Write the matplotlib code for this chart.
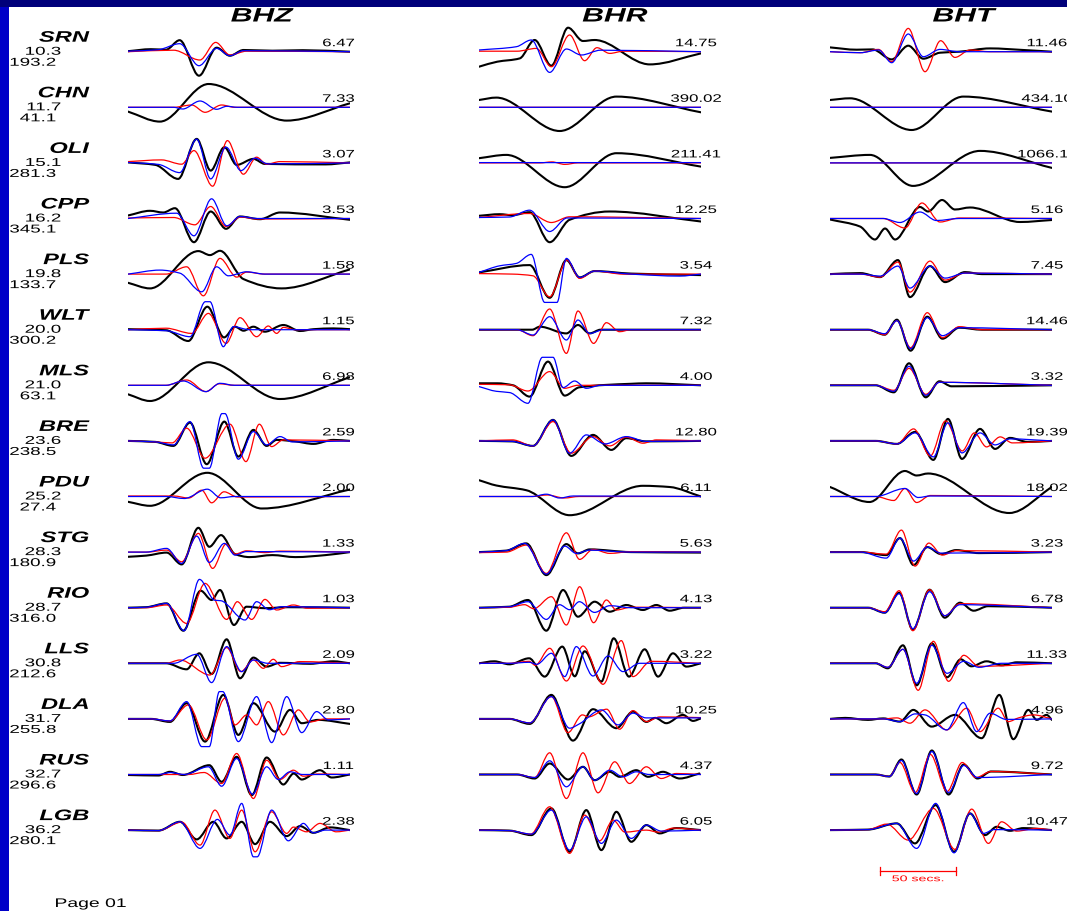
import matplotlib
matplotlib.use("Agg")
import matplotlib.pyplot as plt
from matplotlib.path import Path
from matplotlib.patches import PathPatch, Rectangle
from matplotlib.patheffects import AbstractPathEffect
from matplotlib.transforms import Affine2D

W, H = 1067, 911

stations = ['SRN', 'CHN', 'OLI', 'CPP', 'PLS', 'WLT', 'MLS', 'BRE',
            'PDU', 'STG', 'RIO', 'LLS', 'DLA', 'RUS', 'LGB']
distances = ['10.3', '11.7', '15.1', '16.2', '19.8', '20.0', '21.0', '23.6',
             '25.2', '28.3', '28.7', '30.8', '31.7', '32.7', '36.2']
azimuths = ['193.2', '41.1', '281.3', '345.1', '133.7', '300.2', '63.1', '238.5',
            '27.4', '180.9', '316.0', '212.6', '255.8', '296.6', '280.1']
components = ['BHZ', 'BHR', 'BHT']
amp_bhz = ['6.47', '7.33', '3.07', '3.53', '1.58', '1.15', '6.98', '2.59',
           '2.00', '1.33', '1.03', '2.09', '2.80', '1.11', '2.38']
amp_bhr = ['14.75', '390.02', '211.41', '12.25', '3.54', '7.32', '4.00', '12.80',
           '6.11', '5.63', '4.13', '3.22', '10.25', '4.37', '6.05']
amp_bht = ['11.46', '434.10', '1066.11', '5.16', '7.45', '14.46', '3.32', '19.39',
           '18.02', '3.23', '6.78', '11.33', '4.96', '9.72', '10.47']

# waveform extrema: (time in s, amplitude) ; black = data, red / blue = synthetics
bhz_black = [
    [(0, 0.5), (15, 2.5), (25, 2), (34, 11.5), (46.7, -24), (58.3, 4), (67, -4), (76, 1.7), (95, 1), (115, 1.5), (146, 0)],
    [(0, -4.3), (21, -14.3), (53, 23.3), (104.4, -13.3), (146, 4)],
    [(0, 0.5), (18, -2), (33, -16), (45.2, 24), (54.4, -7.7), (63.4, 15.7), (71.5, -2), (82.5, 4), (90, -1), (130, -1.5), (146, 0.5)],
    [(0, 3), (14.5, 7.7), (23.2, 6), (30.9, 10.3), (43.4, -23.7), (54.4, 7), (64.5, -10.3), (73.7, 2), (86.8, -0.7), (100, 6), (146, -1.3)],
    [(0, -8.7), (14.5, -14.3), (46.3, 23), (53.9, 19), (60.5, 23.3), (76, -5), (101, -14.3), (146, 4.7)],
    [(0, 0.5), (25, -0.5), (39.7, -11.3), (52.2, 23), (63.2, -7.7), (70.4, 3), (76, -1), (82.5, 3), (90, -2), (102.2, 4.7), (113.2, -1.3), (122, 0.5), (135, 1.3), (146, 0.5)],
    [(0, -9), (14.5, -15.7), (52.9, 23), (100, -13.7), (146, 8)],
    [(0, 0), (18, -1), (29.8, -5), (40.8, 18.3), (51.8, -23.3), (63.4, 19.3), (72.6, -15.7), (82.5, 11), (91.2, -5), (97.8, 1), (110, -0.5), (122, -3), (135, 1), (146, 0)],
    [(0, -5.3), (14.5, -9.3), (52.2, 23.7), (88, -12), (146, 7)],
    [(0, -4.7), (12, -3.5), (25.4, -0.5), (35.3, -12.3), (46.3, 24.3), (53.5, 5.3), (61.2, 17), (70.4, -2), (80, -5), (95, -3), (110, -5), (130, -3), (146, 0)],
    [(0, 0), (12, 0.5), (25.4, 4.3), (36.4, -23), (47.8, 17), (55, 7.7), (60.5, 17.7), (69.7, -17.3), (78, 1), (90, -0.5), (105, 0.5), (146, 0)],
    [(0, 0), (25, 0), (38.6, -6), (46.9, 10), (55, -10.7), (64.9, 24), (73.7, -15), (82.5, 5.7), (91.2, -3.3), (100, 0.5), (120, -0.5), (135, 2), (146, 0)],
    [(0, 0), (15, 0), (27.6, -3), (38.6, 15.7), (50.7, -22.7), (62.7, 24), (72.6, -16), (82.5, 15.7), (96.7, -12.7), (106.6, 9), (114.3, -4.3), (125, -1), (146, -5)],
    [(0, -0.5), (20, -1), (27.6, 2.7), (36, -0.5), (53.5, 9.3), (61.6, -7.3), (71.5, 17.7), (81.4, -20.7), (91.2, 17), (102.2, -10), (109, 1), (114.3, -5), (126.3, 4.3), (134, -3), (146, 0)],
    [(0, 0), (20, -0.5), (34.2, 8.3), (45.2, -9.3), (56.1, 8.3), (64.9, -8.3), (74.8, 8.3), (83.6, -14), (93.4, 8.3), (104.4, -6), (113.2, 4), (121.9, -2.7), (132.9, 2.7), (146, 0)],
]
bhz_red = [
    [(0, 0), (30, 1.5), (47.3, -8.3), (57.7, 9.3), (67, -3.3), (78, 0.5), (146, 0)],
    [(0, 0), (30, 0), (41.9, 2.3), (50.7, -5), (61.6, 2.3), (70, 0), (146, 0)],
    [(0, 1.3), (22, 3), (35.3, -1.3), (43.4, 12.3), (55.7, -23.3), (65.4, 22.3), (75.9, -11.3), (84.6, 5.7), (91.2, -1.3), (100, 1.3), (146, 0)],
    [(0, 0.5), (30, 1), (44, -6.3), (54.4, 12), (64.5, -8), (74, 1.5), (85, -0.5), (146, 0)],
    [(0, 0), (25, 0), (38.6, 7.3), (49.6, -21.7), (60.5, 15.7), (71.5, -3), (78, 2), (90, 0), (146, 0)],
    [(0, 0), (25, 1.5), (41.9, -3.7), (52.9, 16.3), (64.5, -13.7), (73.7, 12), (84.6, -7), (92.3, 3.7), (97.8, -3.7), (102.2, 2.3), (110, 0), (146, 0)],
    [(0, 0), (25, 0), (38.6, 5.3), (51.3, -6.3), (60, 1.5), (70, 0), (146, 0)],
    [(0, 0), (18, -1), (29, -2), (38.6, 12.7), (50.7, -17.3), (67.1, 16.7), (77.6, -20.7), (86.4, 16.7), (94.5, -5.7), (102.2, 1), (146, 0)],
    [(0, 0.5), (30, 0.5), (40, -1.5), (48.5, 6.3), (55, -6.3), (63.2, 4.7), (72, -0.5), (146, 0)],
    [(0, 0), (12, 0), (25.4, 2), (35.3, -9.7), (46.3, 18.7), (55.7, -16.3), (64.5, 8), (70.4, -2), (78, 1.3), (90, -0.5), (100, 1), (146, 0)],
    [(0, 0), (12, 0), (25.4, 2.7), (38.6, -15.7), (50.7, 24.3), (64.9, -11.7), (71.9, 6), (81.4, -11.7), (90.1, 8.3), (97.8, -2.3), (108.8, 2.7), (118, -0.5), (146, 0)],
    [(0, 0), (25, 0), (34.2, 3.3), (53.9, -11.7), (64.9, 15.7), (74.2, -8.3), (82.5, 3.3), (89, -5), (95.6, 4), (101, -3.3), (113, 1.7), (146, 0)],
    [(0, 0), (15, 0), (27.6, -2), (39.7, 14), (51.8, -21), (63.8, 20.7), (70.4, -6), (78.1, 4), (84.6, -6), (92.3, 17.3), (102.2, -16), (112.1, 9), (119.7, -3), (130, 0), (146, 0)],
    [(0, 0), (40, 0), (50, 2), (61.6, -9), (71.5, 21), (82.5, -24), (91.2, 14.3), (100, -5), (108.8, 4.3), (115.4, -1.7), (125, 0.5), (146, 0)],
    [(0, 0), (20, -0.5), (35.3, 8), (47.4, -15), (57.2, 20), (67, -8.3), (74.8, 20), (83.6, -21.7), (94.5, 18.3), (104.4, -3.3), (108.8, 3), (117.5, -1.7), (126.3, 6.7), (137, -1.7), (146, 0)],
]
bhz_blue = [
    [(0, 0.5), (20, 2), (34, 8), (46.7, -14), (58.3, 3.3), (67, -4), (76, 1), (146, 0)],
    [(0, 0), (30, 0), (36, -1.7), (47.4, 6.3), (58.3, -2), (65, 1), (72, 0), (146, 0)],
    [(0, 0.5), (20, -1.5), (34, -9.7), (45.2, 23.7), (54.4, -16), (64.5, 15.7), (74.3, -7.7), (83.5, 4.7), (92, -1), (146, 0)],
    [(0, 0), (32, 5.3), (43.4, -17.3), (55, 19.7), (65, -7.3), (73.7, 2), (85, 0), (146, 0)],
    [(0, 0), (21, 4), (34, 1), (48.5, -17.7), (58.3, 7.3), (66, -1.7), (78, 2.3), (90, 0), (146, 0)],
    [(0, 0), (25, -1), (40.8, -7), (50.9, 28), (53.9, 28), (62.7, -17), (69.3, 3), (80, 0), (146, 0)],
    [(0, 0), (25, 0), (36.4, 4.3), (51.3, -6.3), (60.5, 2), (70, 0), (146, 0)],
    [(0, 0), (18, -1), (30, -4), (40.8, 19.3), (49.8, -27.3), (53.5, -27.3), (61.8, 27.3), (63.8, 27.3), (72.6, -18.3), (82.5, 9.3), (91.2, -4), (100, 4.3), (108, -1), (146, 0)],
    [(0, 0), (25, 0), (37, -2), (52.2, 7.3), (61, -1.3), (70, 0), (146, 0)],
    [(0, 0), (12, 0), (25.4, 3.7), (35.3, -11.3), (45.2, 16), (53.5, -10.3), (63.4, 8.7), (70.4, -3), (78, 0.5), (146, 0)],
    [(0, 0), (12, 0.5), (25.4, 4.3), (36.9, -23), (47, 28.3), (57, 7.5), (61, 7), (77, -12.3), (84.6, 6), (93, -2), (101, 1), (146, 0)],
    [(0, 0), (30, 0), (45.2, 9), (55, -19.3), (64.9, 16.7), (74.8, -8.3), (82.5, 3.3), (92, 0), (146, 0)],
    [(0, 0), (15, 0), (27.6, -2), (38.6, 17.3), (48.5, -27.7), (53.5, -27.7), (60.1, 27.3), (62.3, 27.3), (72.6, -22.7), (84.6, 22.3), (94.5, -23.7), (104.4, 22.3), (114.3, -13.7), (124.1, 7.3), (131.8, -1), (146, 0)],
    [(0, 0), (20, 0), (28, 2), (37, 0), (52.9, 7.7), (61.6, -11.7), (71.5, 16), (82, -19.7), (91.2, 7.7), (98.9, -5), (106.6, 2.7), (115, 0), (146, 0)],
    [(0, 0), (20, -0.5), (34.2, 8.3), (47.4, -18.3), (58.8, 10.7), (67.1, -5), (74.8, 26.7), (82.5, -26.7), (85, -26.7), (94.5, 20), (105.5, -10.7), (115.4, 6.7), (121.9, -2.7), (130, 0), (146, 0)],
]

bhr_black = [
    [(0, -15), (12, -10), (26.8, -6.7), (36.6, 11.7), (47.6, -14), (58.6, 24), (68.4, 10.7), (76.1, 11.7), (112.3, -12.7), (146, -1.7)],
    [(0, 7.3), (11.4, 9.7), (53.1, -23.7), (90.4, 10.7), (146, -5)],
    [(0, 4.7), (18, 8), (56.4, -24.3), (90.4, 9.7), (146, -3.7)],
    [(0, 2.7), (13.6, 4.3), (22, 3.3), (33.3, 6.3), (46.5, -23.7), (59.6, -1.3), (86, 7), (146, -3)],
    [(0, 1.7), (33.3, 9), (46.5, -23.7), (57.5, 14), (66.2, -3.3), (76.1, 3), (100, 0.5), (146, -1)],
    [(0, 0), (35, 0), (40, 3), (57.5, -3.7), (65.1, 4.7), (72.8, -3.7), (80, 0), (146, 0)],
    [(0, 2), (12, 2), (22.4, 0), (33.3, -11.3), (45.4, 23.7), (56.4, -10.3), (66, -2), (100, 1.5), (110, 2), (146, 0)],
    [(0, 0), (22, -0.5), (35.5, -5), (48.7, 21), (60.7, -15), (75, 6), (87.1, -9), (96.9, 2.7), (110, -0.5), (146, 0)],
    [(0, 16.3), (11.4, 11), (31.1, 6.3), (59.6, -18.7), (107.9, 10.7), (125.4, 9.5), (146, 0)],
    [(0, 0), (18, 1.5), (31.1, 8.7), (44.3, -23), (57.5, 8), (65.1, -1.3), (72.8, 2.7), (100, 0), (146, -0.5)],
    [(0, 0), (20, 1), (32.2, 7.7), (44.3, -23), (55.3, 17.7), (65.1, -9), (76.1, 6), (86, -4), (96.9, 2.7), (107.9, -2.3), (116.7, 2.7), (125.4, -3), (135, 0), (146, 0)],
    [(0, 0), (10, 2), (20, -1), (33, 5), (43.2, -13.3), (54.8, 16.7), (63, -13), (69.5, 12), (80.5, -18.3), (88.6, 25), (98.7, -13.3), (109, 14), (117.8, -13.3), (127.6, 10), (136.4, -3.3), (146, 0)],
    [(0, 0), (20, 0), (33.3, -5), (47.6, 24), (61.8, -21.7), (75, 9.7), (90.4, -9.3), (101.3, 7.3), (110.1, -3), (116, 1), (123.2, -4.3), (134.2, 4), (140.8, -2), (146, 0.5)],
    [(0, 0), (25, 0), (36.6, -4), (46.5, 11), (58.6, -5), (68.4, 7.7), (76.1, -5.7), (86, 2.7), (92.5, -2.3), (103.5, 4.3), (111.2, -2.3), (121, 2.7), (132, -4), (145, 1)],
    [(0, 0), (20, -0.5), (34.4, -5), (47.6, 21.7), (59.6, -21.7), (70.6, 20), (80.5, -20), (90.4, 18.3), (100.2, -11.7), (110.1, 5), (118.9, -3.3), (129.8, 2), (146, 0)],
]
bhr_red = [
    [(0, 0.5), (25, 0.5), (37.7, 3.3), (47.6, -15), (59.6, 16.7), (69.5, -9), (77.6, 4), (86, -1.7), (95, 0.5), (146, 0)],
    [(0, 0), (146, 0)],
    [(0, 0), (40, 0), (48, 1), (56.4, -1.5), (65, 0), (146, 0)],
    [(0, 1), (33.3, 5), (47.6, -4), (59.6, 1.7), (146, 0)],
    [(0, 0.5), (22, 0), (35.5, -1.7), (46.5, -22.7), (57.9, 14), (66.2, -4.3), (76.1, 3), (95, 0), (146, 0)],
    [(0, 0), (25, 0), (35.5, -6), (46.5, 20.7), (57.5, -23.7), (65.1, 18.7), (75.4, -13.7), (83.8, 7), (92.5, -2), (100, 0), (146, 0)],
    [(0, 1), (20, 0.5), (32.2, -5.7), (46.5, 13.7), (56.4, -3), (65, 0), (146, 0)],
    [(0, 0), (22, 1), (35.5, -5), (48.7, 19.3), (60.7, -12.3), (75, 4.3), (86, -5), (96.9, 3.7), (107.9, -2.3), (116.7, 1), (146, 0)],
    [(0, 0), (35, 0), (45, 1.5), (56, -1.5), (66, 0), (146, 0)],
    [(0, -0.5), (18, 0), (31.1, 7), (44.3, -21.3), (57.5, 19.3), (66.2, -7.3), (75, 2.7), (86, -1.3), (100, 0.5), (146, 0)],
    [(0, 0), (20, 0.5), (30, 3), (36, -1), (47.6, 11), (57.5, -17.3), (66.2, 21), (75.4, -15), (83.8, 7.7), (90.4, -2.3), (100, 0.5), (146, 0)],
    [(0, 0), (20, 0), (33, 2), (37, -2), (46.5, 15), (57.5, -17.7), (68.4, 17.3), (81.6, -21), (93.6, 22.7), (101.3, -13.3), (113, 2), (146, 0)],
    [(0, 0), (20, 0), (33.3, -4), (47.6, 22.3), (58.5, -13.7), (68, 4), (72, 2), (84, 9.7), (92.5, -10.3), (101.3, 8.3), (110.1, -2.7), (119, 2), (146, 1.3)],
    [(0, 0), (25, 0), (36.6, -3), (46.5, 21.7), (57.5, -24), (68.4, 21.7), (78.3, -18.3), (89.3, 12.7), (99, -9), (110.1, 7.7), (119.9, -4), (129.8, 1), (146, 0)],
    [(0, 0), (20, -0.5), (34, -4), (46.5, 23.3), (59.6, -23.3), (69.5, 15), (79.4, -10.7), (88.2, 10), (96, -2), (110, 0), (118, -2), (128, 2), (146, 0)],
]
bhr_blue = [
    [(0, 1.7), (24.6, 5), (34.4, 11.7), (46.5, -20.7), (57.5, 2.7), (67.3, -3.3), (80, 1.5), (146, 0)],
    [(0, 0), (146, 0)],
    [(0, 0.3), (146, 0.3)],
    [(0, 1), (20, 1.5), (33.3, 8.3), (46.5, -13), (58, 0.5), (146, 0)],
    [(0, 1.7), (13.6, 8.3), (24.6, 10.7), (34.4, 19.7), (43.2, -28.3), (51.3, -28.3), (57.5, 15.7), (66.2, -3.3), (76.1, 3), (100, 0), (132, -2), (146, 0)],
    [(0, 0), (25, 0), (35.5, -5.3), (46.5, 13), (57.5, -10.3), (65.1, 9.7), (72.8, -3.7), (82, 0), (146, 0)],
    [(0, -1.3), (11.4, -6), (20.2, -7.3), (32.2, -18), (41.7, 28), (48.7, 28), (55.3, -2.3), (62.9, 4.3), (70.6, -3), (80, 0), (146, 0)],
    [(0, 0), (22, -0.5), (35.5, -5), (48.7, 21), (59.6, -12.3), (70.6, 6), (83, -3), (96.9, 4.3), (110, -0.5), (146, 0)],
    [(0, 0), (35, 0), (44.3, 2.3), (53, -1.5), (62, 0.5), (146, 0)],
    [(0, 0), (18, 1.5), (30, 8.7), (44.3, -22), (56.4, 6), (64, -1.3), (72.8, 2), (100, 0), (146, 0)],
    [(0, 0), (20, 1), (32.2, 6), (44.3, -11.7), (53, 3), (59.6, -2), (66, 6), (76, -4.7), (86, 2), (100, 0), (146, 0)],
    [(0, 0), (20, 0), (33, 1), (38, -1), (47.6, 10), (56.4, -13.3), (64, 16.7), (75, -12.7), (84.9, 7.3), (94.7, -8.3), (105.7, 0), (146, 0)],
    [(0, 0), (20, 0), (33.3, -4), (47.6, 22.3), (59.6, -9.3), (66, -5), (80.5, 9), (91.5, -6), (101.3, 5.7), (110, 1), (146, 1)],
    [(0, 0), (25, 0), (36.6, -3), (46.5, 13.7), (57.5, -12.3), (68.4, 7.7), (76.1, -5.7), (86, 4.3), (94.7, -2.3), (103.5, 2.7), (112, 0), (146, 0)],
    [(0, 0), (20, -0.5), (34.4, -4), (47.6, 20), (59.6, -20), (70.6, 13.3), (80.5, -13.3), (90.4, 10), (100.2, -8.3), (110.1, 5), (120, -1), (146, 0)],
]

bht_black = [
    [(0, 4.3), (17.5, 2), (28, 2.3), (40.6, -7.7), (51.5, 6), (61.4, -7), (72.4, -1), (85, 0), (105.3, 3.3), (127.2, 1.7), (146, 0)],
    [(0, 7.3), (13.2, 9), (53.7, -22.7), (87.7, 10.7), (146, -4.3)],
    [(0, 5), (26.3, 8), (54.6, -23), (98.7, 12), (146, -5)],
    [(0, -1), (19.7, -8), (29.6, -21), (36.2, -10), (42.8, -21), (59.2, 11.5), (64.5, 7), (73.7, 18.5), (82.2, 9), (92.1, 11), (125, -3.5), (146, -1.5)],
    [(0, 0), (20, 1), (32.9, -3), (44.7, 14), (52.6, -23), (65.8, 8), (75.7, -8), (88.8, 2), (100, 0), (146, 0)],
    [(0, 0), (25, 0), (36, -5), (44, 10), (53, -21), (64, 13), (74, -9), (85, 2), (100, 0), (146, 0)],
    [(0, 0), (30, 0), (42, -7), (52, 22), (63, -12), (72, 4), (80, -1), (146, 0)],
    [(0, 0), (30, 0), (44, -3), (56, 9), (68, -19), (77.6, 22), (86.8, -18), (98.7, 12), (108.6, -8), (118.4, 3), (130, -1), (146, 0)],
    [(0, 9.5), (26, -5.5), (49.3, 25.5), (57, 21), (64.5, 23), (118, -16.5), (146, 9.5)],
    [(0, 0), (20, 0), (37, -3), (46, 14), (55, -13), (64, 5), (73, -2), (83, 2), (98, -1), (146, 0)],
    [(0, 0), (25, 0), (36, -5), (45.5, 15), (54.5, -22), (65.5, 18), (75.5, -10), (85.5, 5), (94.5, -3), (104, 1.5), (146, 0)],
    [(0, 0), (30, 0), (38, -5), (48, 18), (57, -22), (67, 20), (77, -14), (86, 4), (93, -3), (103, 2), (113, -2), (123, 1), (146, 0)],
    [(0, 0), (10, 1), (25, -1), (35, 0.5), (46, -2.7), (54.8, 9), (66.9, -7.7), (82.2, 4), (99.8, -19.3), (111.4, 24), (120.6, -20.3), (130.5, 9), (136, -1), (142.5, 4), (146, -1)],
    [(0, 0), (30, 0), (39, -2), (47, 15), (57, -20), (67, 24), (78, -20), (88, 10), (97, -4), (106, 3), (146, 0)],
    [(0, 0), (25, 0.5), (43.9, 6.7), (55.9, -13.3), (69.5, 25), (81.6, -21.7), (92.1, 16.7), (102, -5), (109.6, 3.3), (118.4, -0.7), (127.2, 2), (146, 0)],
]
bht_red = [
    [(0, 0), (20, -1), (31.8, 2.3), (40.6, -10), (51.5, 23.3), (62.5, -20), (72.8, 11), (82.2, -5.7), (92.1, 1.7), (105, 0), (146, 0)],
    [(0, 0), (146, 0)],
    [(0, 0), (146, 0)],
    [(0, 0), (35, 0), (49.3, -9.5), (60.5, 15.5), (72.4, -3.5), (85, 0.5), (146, 0)],
    [(0, 0), (20, 0), (32.9, -3), (44.7, 12), (52.6, -18), (65.8, 13), (75.7, -6), (88.8, 1), (146, 0)],
    [(0, 0), (25, 0), (36, -5), (44, 9), (53, -18), (64, 17), (74, -8), (85, 3), (100, 0), (146, 0)],
    [(0, 0), (30, 0), (42, -5), (52, 17), (63, -9), (72, 3), (146, 0)],
    [(0, 0), (30, 0), (44, -3), (55, 12), (66, -15), (76, 20), (87, -10), (95, 8), (103, -6), (112, 4), (120, -2), (146, 0)],
    [(0, 0), (30, 0), (42, -4), (49.3, 8), (57, -6), (66, 1), (146, 0)],
    [(0, 0), (20, 0), (37, -2), (47, 22), (56, -14), (65, 9), (74, -3), (83, 1.5), (146, 0)],
    [(0, 0), (25, 0), (36, -4), (45.5, 17), (54.5, -23), (65.5, 18), (75.5, -8), (85.5, 4), (146, 0)],
    [(0, 0), (30, 0), (38, -4), (48, 14), (58, -27), (68, 22), (78, -18), (88, 8), (98, -3), (146, 0)],
    [(0, 0), (35, 0), (44, 1), (52.6, -4.3), (62.5, 9), (76.8, -11), (89.9, 10.7), (98.7, -12.7), (110.7, 10.7), (117.3, -2.7), (124, 1), (133.8, 4), (146, 0)],
    [(0, 0), (30, 0), (39, -2), (46, 12), (56, -18), (66, 20), (77, -17), (87, 12), (96, -3), (106, 3), (146, 0)],
    [(0, 0), (25, 0.5), (37.3, 6), (51.5, -10), (68, 21.7), (82.2, -19.3), (93.2, 21), (104.2, -13.3), (112.9, 8.3), (122.8, -1), (136, 1.7), (146, 0)],
]
bht_blue = [
    [(0, 0), (20, -1), (32, 1.7), (40.6, -11), (51.5, 17.7), (61.4, -5), (72.4, 2.3), (85, 0), (146, 0)],
    [(0, 0), (146, 0)],
    [(0, 0), (146, 0)],
    [(0, 0), (35, 0), (46, -4), (59.2, 6.5), (70, -2), (85, 0), (146, 0)],
    [(0, 0), (20, 0), (32.9, -2), (44.7, 8), (52.6, -14), (65.8, 8), (75.7, -4), (88.8, 1), (146, 0)],
    [(0, 0), (25, 0), (36, -4), (44, 9), (53, -19), (64, 12), (74, -6), (85, 2), (146, 0)],
    [(0, 0), (30, 0), (42, -6), (52, 19), (63, -10), (72, 3), (146, 0)],
    [(0, 0), (30, 0), (44, -3), (56, 8), (68, -16), (77.6, 18), (86.8, -12), (98.7, 8), (108.6, -4), (118.4, 2), (146, 0)],
    [(0, 0), (30, 0), (49.3, 8), (58, -1), (66, 0.5), (146, 0)],
    [(0, 0), (20, 0), (37, -6), (46, 14), (55, -9), (64, 5), (73, -1), (146, 0)],
    [(0, 0), (25, 0), (36, -5), (45.5, 14), (54.5, -21), (65.5, 16), (75.5, -8), (85.5, 3), (146, 0)],
    [(0, 0), (30, 0), (38, -4), (48, 14), (57, -20), (67, 18), (77, -10), (88, 2), (98, -4), (113, 0), (146, 0)],
    [(0, 0), (35, 0), (46, -2.7), (56, 5), (62.5, 4), (76.8, -11), (87.7, 16.3), (96.5, -12.7), (105.3, 5.7), (116, -0.5), (146, 0)],
    [(0, 0), (30, 0), (39, -2), (47, 14), (57, -19), (67, 23), (78, -18), (88, 9), (97, -3), (146, 0)],
    [(0, 0), (25, 0.5), (43.9, 6.7), (57, -18.3), (69.5, 26.7), (81.6, -22.7), (92.1, 16.7), (101, -3.3), (108, 0.5), (146, 0)],
]

traces = {
    'BHZ': (bhz_black, bhz_red, bhz_blue, amp_bhz),
    'BHR': (bhr_black, bhr_red, bhr_blue, amp_bhr),
    'BHT': (bht_black, bht_red, bht_blue, amp_bht),
}

# layout in pixels
col_left = {'BHZ': 128, 'BHR': 479, 'BHT': 830}
title_x = {'BHZ': 262, 'BHR': 615, 'BHT': 964}
amp_x = {'BHZ': 138.5, 'BHR': 142.8, 'BHT': 142.8}
px_per_sec = 1.52
t_len = 146
row0 = 51.7
row_gap = 55.6
STRETCH = 1.55


class Widen(AbstractPathEffect):
    """Draw text glyphs stretched horizontally about the aligned edge."""

    def __init__(self, sx, anchor):
        super().__init__()
        self.sx = sx
        self.anchor = anchor

    def draw_path(self, renderer, gc, tpath, affine, rgbFace=None):
        ext = tpath.get_extents(affine)
        x0 = ext.x0 + self.anchor * ext.width
        tr = affine + Affine2D().translate(-x0, 0).scale(self.sx, 1).translate(x0, 0)
        renderer.draw_path(gc, tpath, tr, rgbFace)


def widen(ha, sx=STRETCH):
    return [Widen(sx, {'left': 0.0, 'center': 0.5, 'right': 1.0}[ha])]


def ftext(x, y, s, ha='left', sx=STRETCH, **kw):
    fig.text(x / W, 1 - y / H, s, ha=ha, va='center', family='Liberation Sans',
             path_effects=widen(ha, sx), **kw)


def wave_path(pts, off):
    t = [p[0] for p in pts]
    a = [p[1] + off for p in pts]
    n = len(t)
    d = [(a[i + 1] - a[i]) / (t[i + 1] - t[i]) for i in range(n - 1)]
    m = [0.0] * n
    m[0], m[-1] = d[0], d[-1]
    for i in range(1, n - 1):
        if d[i - 1] * d[i] > 0:
            h0, h1 = t[i] - t[i - 1], t[i + 1] - t[i]
            w1, w2 = 2 * h1 + h0, h1 + 2 * h0
            m[i] = (w1 + w2) / (w1 / d[i - 1] + w2 / d[i])
    verts = [(t[0], a[0])]
    codes = [Path.MOVETO]
    for i in range(n - 1):
        h = t[i + 1] - t[i]
        verts += [(t[i] + h / 3, a[i] + m[i] * h / 3),
                  (t[i + 1] - h / 3, a[i + 1] - m[i + 1] * h / 3),
                  (t[i + 1], a[i + 1])]
        codes += [Path.CURVE4] * 3
    return Path(verts, codes)


fig = plt.figure(figsize=(W / 100, H / 100), dpi=100)
fig.patch.set_facecolor('white')
fig.add_artist(Rectangle((0, 1 - 7 / H), 1, 7 / H, transform=fig.transFigure,
                         facecolor='#00007a', edgecolor='none'))
fig.add_artist(Rectangle((0, 0), 9 / W, 1 - 7 / H, transform=fig.transFigure,
                         facecolor='#0000c8', edgecolor='none'))

for comp in components:
    black, red, blue, amps = traces[comp]
    ax = fig.add_axes([col_left[comp] / W, 0, t_len * px_per_sec / W, 1])
    ax.set_xlim(0, t_len)
    ax.set_ylim(row0 - H, row0)
    ax.axis('off')
    for i in range(len(stations)):
        off = -i * row_gap
        for series, col, lw in ((black, 'black', 1.5), (red, '#ff0000', 0.9), (blue, '#0000ff', 0.9)):
            ax.add_patch(PathPatch(wave_path(series[i], off), facecolor='none',
                                   edgecolor=col, lw=lw, joinstyle='round', capstyle='round'))
        ax.text(amp_x[comp], off + 8.5, amps[i], ha='center', va='center', fontsize=7.8,
                family='Liberation Sans', clip_on=False, path_effects=widen('center'))
    ftext(title_x[comp], 17, comp, ha='center', fontsize=14, fontweight='bold', fontstyle='italic')

    if comp == 'BHT':
        # 50 s scale bar
        y_bar = row0 - 870.7
        t0 = 33
        ax.plot([t0, t0 + 50], [y_bar, y_bar], color='#ff0000', lw=0.9)
        for tt in (t0, t0 + 50):
            ax.plot([tt, tt], [y_bar - 4, y_bar + 4], color='#ff0000', lw=0.9)
        ax.text(t0 + 25, y_bar - 9, '50 secs.', color='#ff0000', ha='center', va='center',
                fontsize=6, family='Liberation Sans', path_effects=widen('center', 1.7))

for i, name in enumerate(stations):
    base = row0 + i * row_gap
    ftext(89, base - 14, name, ha='right', fontsize=11, fontweight='bold', fontstyle='italic')
    ftext(61, base, distances[i], ha='right', fontsize=8.2, sx=1.65)
    ftext(56, base + 11, azimuths[i], ha='right', fontsize=8.2, sx=1.65)

ftext(55, 904, 'Page 01', ha='left', fontsize=9)

fig.savefig('out.png', dpi=100, facecolor=fig.get_facecolor())
